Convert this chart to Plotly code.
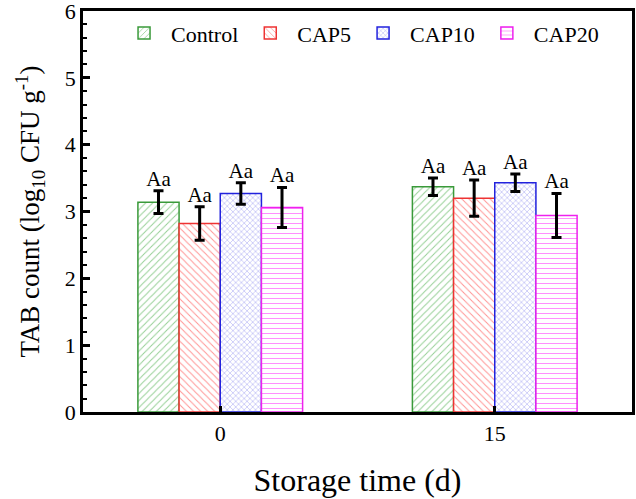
import plotly.graph_objects as go

days = ["0", "15"]
series = ["Control", "CAP5", "CAP10", "CAP20"]
control = [3.14, 3.37]
cap5 = [2.82, 3.20]
cap10 = [3.27, 3.43]
cap20 = [3.06, 2.94]
control_err = [0.17, 0.13]
cap5_err = [0.25, 0.27]
cap10_err = [0.16, 0.13]
cap20_err = [0.30, 0.33]
letters = [["Aa", "Aa"], ["Aa", "Aa"], ["Aa", "Aa"], ["Aa", "Aa"]]

values = [control, cap5, cap10, cap20]
errors = [control_err, cap5_err, cap10_err, cap20_err]
colors = ["#2ca02c", "#ff2a2a", "#1f1fe0", "#ff1fff"]
line_colors = ["#3a9a3a", "#ee3333", "#2222dd", "#ee22ee"]
shapes_ = ["/", "\\", "x", "-"]
sizes_ = [5, 5, 4, 5]

FONT = "Liberation Serif"
bargap = 0.4
n = len(series)
bw = (1 - bargap) / n
xpos = list(range(len(days)))

fig = go.Figure()
for i, name in enumerate(series):
    fig.add_trace(go.Bar(
        x=xpos, y=values[i], name=name,
        marker=dict(color="white", line=dict(color=line_colors[i], width=1.5),
                    pattern=dict(shape=shapes_[i], fgcolor=colors[i], bgcolor="white",
                                 size=sizes_[i], solidity=0.2, fillmode="overlay")),
        error_y=dict(type="data", array=errors[i], color="black", thickness=3, width=5),
    ))
for i, name in enumerate(series):
    xs = [x + (i - (n - 1) / 2) * bw for x in xpos]
    ys = [v + e for v, e in zip(values[i], errors[i])]
    fig.add_trace(go.Scatter(
        x=xs, y=ys, mode="text", text=letters[i], textposition="top center",
        textfont=dict(family=FONT, size=21, color="black"), showlegend=False,
        hoverinfo="skip"))

fig.update_layout(
    width=636, height=499, barmode="group", bargap=bargap, bargroupgap=0,
    plot_bgcolor="white", paper_bgcolor="white",
    margin=dict(l=83, r=4, t=11, b=87, autoexpand=False),
    font=dict(family=FONT, size=22, color="black"),
    legend=dict(orientation="h", x=0.062, y=0.997, xanchor="left", yanchor="top",
                font=dict(family=FONT, size=22), bgcolor="rgba(0,0,0,0)",
                itemwidth=44, tracegroupgap=0),
    showlegend=True,
)
fig.update_xaxes(
    range=[-0.5, 1.5], tickvals=xpos, ticktext=days, showgrid=False, zeroline=False,
    showline=True, linecolor="black", linewidth=2.5, mirror=True, automargin=False,
    ticks="inside", ticklen=6, tickwidth=2.5, tickcolor="black",
    tickfont=dict(family=FONT, size=22),
    title=dict(text="Storage time (d)", font=dict(family=FONT, size=32), standoff=24),
)
fig.update_yaxes(
    range=[0, 6], dtick=1, showgrid=False, zeroline=False, automargin=False,
    showline=True, linecolor="black", linewidth=2.5, mirror=True,
    ticks="inside", ticklen=7, tickwidth=2.5, tickcolor="black",
    minor=dict(ticks="inside", dtick=0.2, ticklen=4, tickwidth=2, tickcolor="black"),
    tickfont=dict(family=FONT, size=22), ticklabeloverflow="allow",
    title=dict(text="TAB count (log<sub>10</sub> CFU g<sup>-1</sup>)",
               font=dict(family=FONT, size=27), standoff=18),
)
fig.write_html("out.html", config={"displayModeBar": False},
               post_script="document.body.style.margin='0';document.body.style.padding='0';")
